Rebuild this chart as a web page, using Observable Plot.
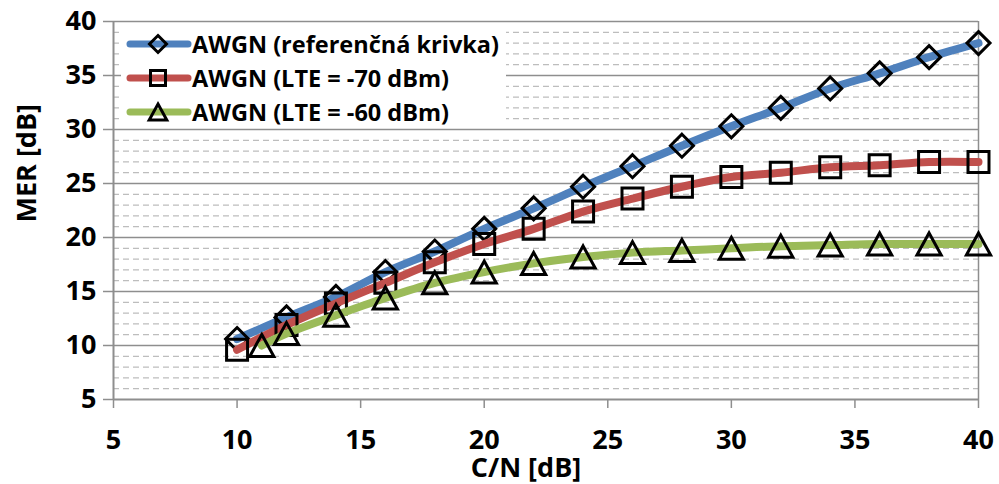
<!DOCTYPE html>
<html>
<head>
<meta charset="utf-8">
<script src="https://cdn.jsdelivr.net/npm/d3@7"></script>
<script src="https://cdn.jsdelivr.net/npm/@observablehq/plot@0.6"></script>
<style>
  body { margin: 0; background: #fff; }
  #chart { position: relative; width: 999px; height: 484px; font-family: 'Open Sans', sans-serif; }
  #legend { position: absolute; left: 121px; top: 23px; width: 385px; height: 104px; background: #fff; }
  .lg-row { position: absolute; left: 0; height: 30px; }
  .lg-text { position: absolute; left: 71px; top: 0; line-height: 30px; font-size: 23.5px; font-weight: bold; color: #000; white-space: nowrap; }
  .lg-sw { position: absolute; left: 5px; top: 0; }
</style>
</head>
<body>
<div id="chart"></div>
<script>
// ---- data ----
const seriesNames = ["AWGN (referenčná krivka)", "AWGN (LTE = -70 dBm)", "AWGN (LTE = -60 dBm)"];
const xRef  = [10, 12, 14, 16, 18, 20, 22, 24, 26, 28, 30, 32, 34, 36, 38, 40];
const merRef = [10.6, 12.6, 14.5, 16.8, 18.7, 20.8, 22.7, 24.7, 26.6, 28.5, 30.3, 32.0, 33.8, 35.2, 36.7, 38.0];
const x70   = [10, 12, 14, 16, 18, 20, 22, 24, 26, 28, 30, 32, 34, 36, 38, 40];
const mer70 = [9.6, 11.9, 13.9, 15.8, 17.7, 19.4, 20.8, 22.4, 23.6, 24.7, 25.6, 26.0, 26.5, 26.7, 27.0, 27.0];
const x60   = [11, 12, 14, 16, 18, 20, 22, 24, 26, 28, 30, 32, 34, 36, 38, 40];
const mer60 = [10.0, 11.1, 12.8, 14.4, 15.8, 16.8, 17.6, 18.2, 18.6, 18.8, 19.0, 19.2, 19.3, 19.4, 19.4, 19.4];
const xTicks = [5, 10, 15, 20, 25, 30, 35, 40];
const yTicks = [5, 10, 15, 20, 25, 30, 35, 40];
const yMinor = d3.range(6, 40).filter(v => v % 5 !== 0);
const xTitle = "C/N [dB]";
const yTitle = "MER [dB]";

const colors = ["#4F81BD", "#C0504D", "#9BBB59"];

// ---- custom marker symbols ----
const symSquare = { draw(ctx, size) { const r = Math.sqrt(size / Math.PI);
  ctx.moveTo(-r, -r); ctx.lineTo(r, -r); ctx.lineTo(r, r); ctx.lineTo(-r, r); ctx.closePath(); } };
const symDiamond = { draw(ctx, size) { const r = Math.sqrt(size / Math.PI);
  ctx.moveTo(0, -r); ctx.lineTo(r, 0); ctx.lineTo(0, r); ctx.lineTo(-r, 0); ctx.closePath(); } };
const symTriangle = { draw(ctx, size) { const r = Math.sqrt(size / Math.PI);
  ctx.moveTo(0, -r); ctx.lineTo(1.1 * r, r); ctx.lineTo(-1.1 * r, r); ctx.closePath(); } };

const toRows = (xs, ys) => xs.map((x, i) => ({ x, y: ys[i] }));
const dRef = toRows(xRef, merRef);
const d70 = toRows(x70, mer70);
const d60 = toRows(x60, mer60);

const gridMajor = "#8E8E8E";
const lineOpts = (c) => ({ x: "x", y: "y", stroke: c, strokeWidth: 8, curve: "catmull-rom", strokeLinecap: "round", strokeLinejoin: "round" });
const dotOpts = (sym, r) => ({ x: "x", y: "y", symbol: sym, r, stroke: "#000", strokeWidth: 3, fill: "none" });

const plot = Plot.plot({
  width: 999,
  height: 484,
  marginLeft: 113,
  marginRight: 21,
  marginTop: 21,
  marginBottom: 85,
  x: { domain: [5, 40] },
  y: { domain: [5, 40] },
  style: { fontFamily: "'Open Sans', sans-serif", fontWeight: "bold", fontSize: "27px", color: "#000", background: "#fff" },
  marks: [
    Plot.ruleY(yMinor, { stroke: "#BDBDBD", strokeWidth: 1.3, strokeDasharray: "6,4" }),
    Plot.ruleY(yTicks.filter(v => v !== 5), { stroke: gridMajor, strokeWidth: 1.5 }),
    Plot.ruleX([40], { stroke: gridMajor, strokeWidth: 1.5 }),
    Plot.axisY({ ticks: yTicks, tickSize: 10, tickPadding: 7, stroke: gridMajor, strokeWidth: 1.5, label: null, fontSize: 27, fontWeight: "bold" }),
    Plot.axisX({ ticks: xTicks, tickSize: 9, tickPadding: 21, stroke: gridMajor, strokeWidth: 1.5, label: null, fontSize: 27, fontWeight: "bold" }),
    Plot.ruleX([5], { stroke: gridMajor, strokeWidth: 2 }),
    Plot.ruleY([5], { stroke: gridMajor, strokeWidth: 2 }),
    Plot.line(dRef, lineOpts(colors[0])),
    Plot.dot(dRef, dotOpts(symDiamond, 11.5)),
    Plot.line(d70, lineOpts(colors[1])),
    Plot.dot(d70, dotOpts(symSquare, 10.5)),
    Plot.line(d60, lineOpts(colors[2])),
    Plot.dot(d60, dotOpts(symTriangle, 11)),
    Plot.text([xTitle], { frameAnchor: "bottom", dx: -20, dy: 69, text: d => d, fontSize: 27, fontWeight: "bold", lineAnchor: "middle" }),
    Plot.text([yTitle], { frameAnchor: "left", dx: -86, dy: 12, rotate: -90, text: d => d, fontSize: 27, fontWeight: "bold", lineAnchor: "middle" })
  ]
});

const chart = document.getElementById("chart");
chart.appendChild(plot);

// ---- legend (inside the plot area, top-left) ----
const legend = document.createElement("div");
legend.id = "legend";
chart.appendChild(legend);
const syms = [symDiamond, symSquare, symTriangle];
const legR = [8.5, 7.5, 8];
const rowTops = [6, 40, 74];
seriesNames.forEach((name, i) => {
  const row = document.createElement("div");
  row.className = "lg-row";
  row.style.top = rowTops[i] + "px";
  row.style.width = "385px";
  const svg = d3.create("svg").attr("class", "lg-sw").attr("width", 66).attr("height", 30);
  svg.append("line").attr("x1", 4).attr("x2", 62).attr("y1", 15).attr("y2", 15)
    .attr("stroke", colors[i]).attr("stroke-width", 7).attr("stroke-linecap", "round");
  const path = d3.path();
  syms[i].draw(path, Math.PI * legR[i] * legR[i]);
  svg.append("path").attr("d", path.toString()).attr("transform", "translate(32,15)")
    .attr("fill", "none").attr("stroke", "#000").attr("stroke-width", 3);
  row.appendChild(svg.node());
  const t = document.createElement("span");
  t.className = "lg-text";
  t.textContent = name;
  row.appendChild(t);
  legend.appendChild(row);
});
</script>
</body>
</html>
